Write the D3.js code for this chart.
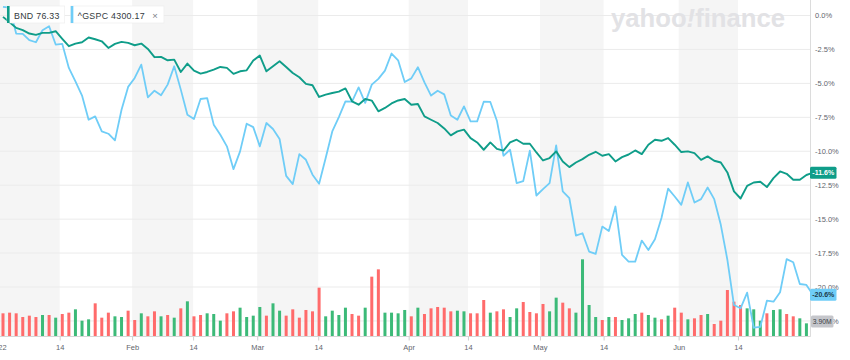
<!DOCTYPE html>
<html><head><meta charset="utf-8">
<script src="https://cdn.jsdelivr.net/npm/d3@7/dist/d3.min.js"></script>
<style>html,body{margin:0;padding:0;background:#fff;}svg{display:block;font-family:"Liberation Sans",Arial,Helvetica,sans-serif;}</style>
</head><body><svg id="c" width="850" height="360"></svg>
<script>
// ---- data ----
const baseDate = "2021-12-31";
const startDate = "2022-01-03", endDate = "2022-06-30";
const holidays = ["2022-01-17","2022-02-21","2022-04-15","2022-05-30","2022-06-20"];

const bndPct = [-0.1,-0.5,-0.91,-1.08,-1.33,-1.43,-1.28,-1.28,-1.16,-1.72,
-2.26,-2.07,-1.97,-1.62,-1.75,-1.9,-2.39,-2.09,-1.94,-2.02,
-2.19,-2.07,-2.46,-3.07,-3.05,-3.3,-3.25,-4.16,-3.54,-4.06,
-4.28,-4.16,-3.99,-3.79,-3.86,-4.3,-4.11,-4.04,-3.32,-2.95,
-4.11,-3.74,-3.37,-3.79,-4.23,-4.55,-5.04,-5.14,-6.0,-5.83,
-5.71,-5.61,-5.37,-6.32,-6.57,-6.15,-6.27,-7.06,-6.81,-6.48,
-6.26,-6.15,-6.57,-6.52,-7.43,-7.68,-7.92,-8.32,-8.83,-8.54,
-8.41,-9.03,-9.35,-9.89,-9.35,-9.83,-9.96,-9.35,-9.15,-9.45,
-9.45,-10.09,-10.68,-10.5,-10.01,-10.75,-11.17,-10.83,-10.58,-10.26,
-10.04,-10.33,-10.21,-10.75,-10.43,-10.24,-9.94,-10.21,-9.52,-9.15,
-9.23,-9.03,-9.52,-10.06,-10.01,-10.14,-10.63,-10.38,-10.7,-10.83,
-11.56,-12.96,-13.48,-12.55,-12.3,-12.25,-12.64,-11.98,-11.49,-11.66,
-12.1,-12.1,-11.75,-11.58];

const gspcPct = [0.64,0.58,-1.33,-1.35,-1.82,-1.97,-1.08,-0.79,-2.14,-2.09,
-3.86,-4.85,-5.9,-7.68,-7.43,-8.54,-8.71,-9.2,-6.94,-5.26,
-4.6,-3.62,-6.03,-5.54,-5.88,-5.09,-3.74,-5.46,-7.31,-7.63,
-6.15,-6.08,-8.04,-8.78,-9.64,-11.32,-10.01,-7.97,-8.22,-9.64,
-7.92,-8.36,-9.1,-11.81,-12.42,-10.21,-10.63,-11.73,-12.4,-10.5,
-8.54,-7.48,-6.32,-6.35,-5.29,-6.44,-5.09,-4.67,-4.06,-2.8,
-3.3,-4.9,-4.63,-3.81,-4.92,-5.9,-5.54,-5.81,-7.36,-7.68,
-6.69,-7.8,-7.8,-6.35,-6.37,-7.75,-10.33,-9.89,-12.35,-12.2,
-9.95,-13.26,-12.79,-12.35,-9.57,-12.96,-13.46,-16.21,-16.04,-17.39,
-17.56,-15.55,-15.87,-14.07,-17.64,-18.13,-18.13,-16.58,-17.27,-16.48,
-14.9,-12.75,-13.33,-13.95,-12.3,-13.78,-13.53,-12.67,-13.53,-15.42,
-18.0,-21.33,-21.57,-20.42,-23.0,-22.93,-21.01,-21.08,-20.39,-17.95,
-18.18,-19.78,-19.85,-20.58];

const volumeM = [7.56,7.78,7.56,6.33,6.78,6.33,7.0,7.0,6.11,7.33,
7.78,8.89,5.11,5.56,10.89,6.11,7.78,6.56,6.33,8.44,
5.33,7.56,6.56,8.22,6.56,7.0,6.11,9.22,11.56,6.56,
7.0,7.56,7.33,5.11,7.56,8.22,9.44,6.33,6.78,9.67,
6.78,10.89,8.44,6.78,8.89,6.11,8.67,8.22,16.11,6.56,
8.44,7.0,9.44,7.33,6.78,9.44,19.78,22.22,7.78,7.78,
7.56,8.67,6.56,9.44,7.33,9.22,9.67,9.44,8.22,8.44,
8.22,7.56,7.56,12.0,7.78,8.22,8.89,6.33,9.22,11.33,
8.0,7.56,10.67,8.22,12.78,11.11,9.22,7.78,25.56,10.33,
6.33,5.33,6.33,6.33,5.33,5.89,7.33,7.78,7.0,6.11,
5.56,6.78,9.44,7.78,5.56,5.89,7.0,7.33,4.0,5.11,
15.33,11.44,10.33,9.22,8.89,5.11,7.56,8.67,8.89,7.33,
6.56,5.89,4.22,3.9];

const volumeUp = [0,0,0,0,0,0,1,0,1,0,
0,1,1,1,0,0,0,1,1,0,
0,1,0,0,1,0,1,0,1,0,
0,1,1,1,0,0,1,1,1,1,
0,1,1,0,0,0,0,0,0,1,
1,1,1,0,0,1,0,0,1,1,
1,1,0,1,0,0,0,0,0,1,
1,0,0,0,1,0,0,1,1,0,
0,0,0,1,1,0,0,1,1,1,
1,0,1,0,1,1,1,0,1,1,
0,1,0,0,1,0,0,1,0,0,
0,0,0,1,1,1,0,1,1,0,
0,1,1,1];

const yTicks = [0,-2.5,-5,-7.5,-10,-12.5,-15,-17.5,-20,-22.5];
const xTickDates = ["2022-01-01","2022-01-14","2022-02-01","2022-02-14","2022-03-01","2022-03-14",
                    "2022-04-01","2022-04-14","2022-05-01","2022-05-14","2022-06-01","2022-06-14"];
const xTickLabels = ["2022","14","Feb","14","Mar","14","Apr","14","May","14","Jun","14"];
const legendSymbols = ["BND","^GSPC"];
const legendPrices = ["76.33","4300.17"];
const lastVolumeLabel = "3.90M";

// ---- layout ----
const W = 850, H = 360, plotR = 810, plotT = 0, plotB = 336;
const colBND = "#0f9d89", colGSPC = "#6fcdf7";
const colUp = "#3cba78", colDown = "#ff6b6b";

const svg = d3.select("#c");
const parse = d3.utcParse("%Y-%m-%d"), fmt = d3.utcFormat("%Y-%m-%d");
const hol = new Set(holidays);
const days = d3.utcDay.range(parse(startDate), d3.utcDay.offset(parse(endDate), 1))
  .filter(d => d.getUTCDay() % 6 !== 0 && !hol.has(fmt(d)));
const n = days.length;
const openMs = 9.5 * 3600e3;
const times = [parse(baseDate), ...days].map(d => new Date(+d + openMs));
const idxOfTime = d3.scaleUtc().domain(times).range(d3.range(-1, n));
const tickIdx = xTickDates.map(s => idxOfTime(parse(s)));

const x = d3.scaleLinear().domain([0, n - 1]).range([3, 813]);
const y = d3.scaleLinear().domain([0, -20]).range([15.5, 287]);
const yv = d3.scaleLinear().domain([0, 26]).range([plotB, plotB - 78]);

svg.append("defs").append("clipPath").attr("id", "clip")
  .append("rect").attr("x", 0).attr("y", plotT).attr("width", plotR).attr("height", plotB - plotT);

const plot = svg.append("g").attr("clip-path", "url(#clip)");

// shaded bands: month start -> 14th
for (let k = 0; k < tickIdx.length; k += 2) {
  const x0 = x(tickIdx[k]), x1 = x(tickIdx[k + 1]);
  plot.append("rect").attr("x", x0).attr("y", plotT).attr("width", x1 - x0)
    .attr("height", plotB - plotT).attr("fill", "#f5f5f5");
}
// gridlines
plot.selectAll("line.grid").data(yTicks).join("line").attr("class", "grid")
  .attr("x1", 0).attr("x2", plotR).attr("y1", d => y(d)).attr("y2", d => y(d))
  .attr("stroke", "#ebebeb").attr("stroke-width", 1);

// yahoo finance watermark
svg.append("text").attr("x", 611).attr("y", 27).attr("font-size", 26).attr("font-weight", 900)
  .attr("fill", "#e2e2e5").attr("textLength", 174).attr("lengthAdjust", "spacingAndGlyphs")
  .html('yahoo<tspan font-style="italic">!</tspan>finance');

// volume bars
plot.selectAll("rect.vol").data(volumeM).join("rect").attr("class", "vol")
  .attr("x", (d, i) => x(i) - 1.5).attr("width", 3)
  .attr("y", d => yv(d)).attr("height", d => plotB - yv(d))
  .attr("fill", (d, i) => volumeUp[i] ? colUp : colDown);

// lines
const line = d3.line().x((d, i) => x(i)).y(d => y(d));
plot.append("path").datum(gspcPct).attr("d", line).attr("fill", "none")
  .attr("stroke", colGSPC).attr("stroke-width", 1.8).attr("stroke-linejoin", "round");
plot.append("path").datum(bndPct).attr("d", line).attr("fill", "none")
  .attr("stroke", colBND).attr("stroke-width", 1.9).attr("stroke-linejoin", "round");

// axes lines
svg.append("line").attr("x1", plotR + 0.5).attr("x2", plotR + 0.5).attr("y1", 0).attr("y2", plotB + 0.5)
  .attr("stroke", "#dcdcdc");
svg.append("line").attr("x1", 0).attr("x2", plotR + 0.5).attr("y1", plotB + 0.5).attr("y2", plotB + 0.5)
  .attr("stroke", "#d6d6d6");

// right axis
const ya = svg.append("g").attr("transform", `translate(${plotR},0)`)
  .call(d3.axisRight(y).tickValues(yTicks).tickSize(0).tickPadding(5)
    .tickFormat(d => d.toFixed(1) + "%"));
ya.select(".domain").remove();
ya.selectAll("text").attr("font-size", 7.5).attr("fill", "#5f666d")
  .attr("font-family", '"Liberation Sans",Arial,sans-serif');

// bottom axis
const xa = svg.append("g").attr("transform", `translate(0,${plotB + 0.5})`)
  .call(d3.axisBottom(x).tickValues(tickIdx).tickSize(4).tickPadding(4)
    .tickFormat((d, i) => xTickLabels[i]));
xa.select(".domain").remove();
xa.selectAll("line").attr("stroke", "#cfcfcf");
xa.selectAll("text").attr("font-size", 7.5).attr("fill", "#5f666d")
  .attr("font-family", '"Liberation Sans",Arial,sans-serif');

// value badges
function badge(cy, w, fill, txtFill, label) {
  const g = svg.append("g");
  g.append("rect").attr("x", plotR).attr("y", cy - 6).attr("width", w).attr("height", 12)
    .attr("rx", 1.5).attr("fill", fill);
  g.append("text").attr("x", plotR + w / 2).attr("y", cy).attr("dy", "0.35em")
    .attr("text-anchor", "middle").attr("font-size", 7).attr("font-weight", "bold")
    .attr("fill", txtFill).text(label);
}
badge(y(bndPct[n - 1]), 26.5, colBND, "#ffffff", bndPct[n - 1].toFixed(1) + "%");
badge(y(gspcPct[n - 1]), 26.5, colGSPC, "#1d3b4a", gspcPct[n - 1].toFixed(1) + "%");
// volume badge
{
  const cy = y(-22.5) + 0.5;
  const g = svg.append("g");
  g.append("rect").attr("x", plotR + 1).attr("y", cy - 6).attr("width", 22.5).attr("height", 12)
    .attr("rx", 1.5).attr("fill", "#c5c6cb");
  g.append("text").attr("x", plotR + 12.3).attr("y", cy).attr("dy", "0.35em")
    .attr("text-anchor", "middle").attr("font-size", 6.8).attr("fill", "#3a3f45").text(lastVolumeLabel);
}

// legend
const legCols = [colBND, colGSPC];
let lx = 7;
legendSymbols.forEach((s, k) => {
  const g = svg.append("g");
  const t = g.append("text").attr("x", lx + 7).attr("y", 18.5).attr("font-size", 8.8)
    .attr("fill", "#333a40").attr("letter-spacing", 0.3).text(s + " " + legendPrices[k]);
  const tw = t.node().getComputedTextLength();
  const extra = k === 1 ? 14 : 0;
  const bw = tw + 12 + extra;
  g.insert("rect", "text").attr("x", lx).attr("y", 6).attr("width", bw).attr("height", 17)
    .attr("fill", "#fff").attr("stroke", "#ececec").attr("stroke-width", 0.6);
  g.insert("rect", "text").attr("x", lx).attr("y", 6).attr("width", 2.6).attr("height", 17)
    .attr("fill", legCols[k]);
  if (k === 1) {
    g.append("text").attr("x", lx + bw - 9).attr("y", 18.5).attr("font-size", 9.5)
      .attr("fill", "#7a8087").attr("text-anchor", "middle").text("×");
  }
  lx += bw + 6;
});
</script></body></html>
